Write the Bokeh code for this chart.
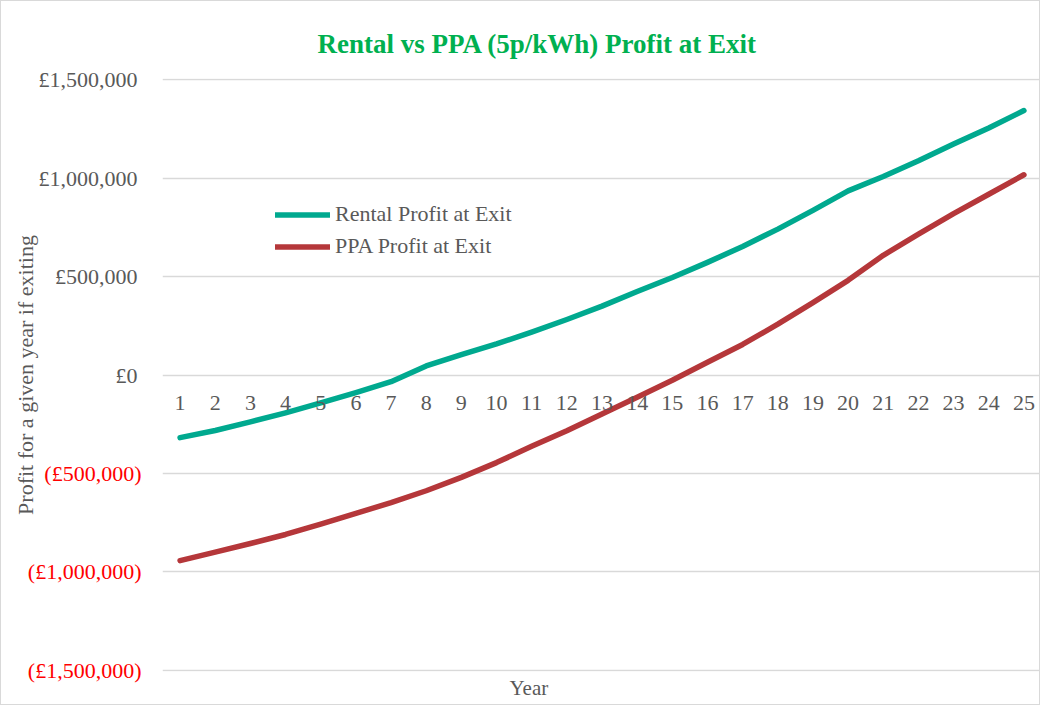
from bokeh.plotting import figure
from bokeh.models import (FactorRange, Range1d, FixedTicker, Legend, LegendItem,
                          LinearAxis, Title, ColumnDataSource)
from bokeh.embed import file_html
from bokeh.resources import INLINE

# ---------------- data ----------------
years = [str(i) for i in range(1, 26)]
rental_profit = [-318000, -282000, -238000, -192000, -142000, -90000, -34000,
                 46000, 104000, 158000, 218000, 282000, 350000, 424000, 495000,
                 572000, 653000, 741000, 836000, 935000, 1008000, 1088000,
                 1173000, 1255000, 1343000]
ppa_profit = [-943000, -900000, -856000, -810000, -757000, -703000, -648000,
              -588000, -520000, -445000, -362000, -283000, -198000, -113000,
              -27000, 65000, 155000, 258000, 368000, 481000, 608000, 716000,
              820000, 918000, 1017000]
series_names = ["Rental Profit at Exit", "PPA Profit at Exit"]
y_ticks = [-1500000, -1000000, -500000, 0, 500000, 1000000, 1500000]
y_tick_labels = ["(£1,500,000)", "(£1,000,000)", "(£500,000)", "£0",
                 "£500,000", "£1,000,000", "£1,500,000"]
title_text = "Rental vs PPA (5p/kWh) Profit at Exit"
y_title = "Profit for a given year if exiting"
x_title = "Year"

# ---------------- style ----------------
FONT = "Liberation Serif"
GREY = "#595959"
TEAL = "#00A98F"
RED = "#B5373A"
GRID = "#D9D9D9"

# small pad so the outer grid lines are not clipped by the frame
pad = 6000
p = figure(width=1040, height=705,
           x_range=FactorRange(factors=years, range_padding=0),
           y_range=Range1d(y_ticks[0] - pad, y_ticks[-1] + pad),
           output_backend="svg", toolbar_location=None,
           min_border_left=161, min_border_right=0,
           min_border_top=77, min_border_bottom=35)
p.styles = {"border": "1px solid #D9D9D9"}
p.outline_line_color = None
p.background_fill_color = "white"
p.border_fill_color = "white"

src = ColumnDataSource(dict(year=years, rental=rental_profit, ppa=ppa_profit))
r1 = p.line("year", "rental", source=src, line_color=TEAL, line_width=5.5,
            line_cap="round", line_join="round")
r2 = p.line("year", "ppa", source=src, line_color=RED, line_width=5.5,
            line_cap="round", line_join="round")

# title
p.title.text = title_text
p.title.align = "left"
p.title.offset = 155
p.title.standoff = 39
p.title.text_font = FONT
p.title.text_font_size = "27px"
p.title.text_font_style = "bold"
p.title.text_color = "#00B050"

# grid
p.xgrid.visible = False
p.ygrid.ticker = FixedTicker(ticks=y_ticks)
p.ygrid.grid_line_color = GRID
p.ygrid.grid_line_width = 1.5

# y axis A: non-negative labels in grey
axA = p.yaxis[0]
axA.ticker = FixedTicker(ticks=[t for t in y_ticks if t >= 0])
axA.major_label_overrides = {t: lab for t, lab in zip(y_ticks, y_tick_labels) if t >= 0}
axA.axis_line_color = None
axA.major_tick_line_color = None
axA.minor_tick_line_color = None
axA.major_label_standoff = 19
axA.major_label_text_font = FONT
axA.major_label_text_font_size = "22px"
axA.major_label_text_color = GREY

# y axis B: negative labels in red, pulled in to line up with axis A
axB = LinearAxis(ticker=FixedTicker(ticks=[t for t in y_ticks if t < 0]),
                 major_label_overrides={t: lab for t, lab in zip(y_ticks, y_tick_labels) if t < 0},
                 axis_line_color=None, major_tick_line_color=None,
                 minor_tick_line_color=None, major_label_standoff=-112,
                 major_label_text_font=FONT, major_label_text_font_size="22px",
                 major_label_text_color="#FF0000",
                 axis_label=y_title, axis_label_standoff=-13,
                 axis_label_text_font=FONT, axis_label_text_font_size="22px",
                 axis_label_text_font_style="normal",
                 axis_label_text_color=GREY)
p.add_layout(axB, "left")

# x axis crossing at zero
p.xaxis.fixed_location = 0
p.xaxis.axis_line_color = None
p.xaxis.major_tick_line_color = None
p.xaxis.minor_tick_line_color = None
p.xaxis.major_label_standoff = 15
p.xaxis.major_label_text_font = FONT
p.xaxis.major_label_text_font_size = "22px"
p.xaxis.major_label_text_color = GREY

year_title = Title(text=x_title, align="left", offset=347, standoff=4,
                   text_font=FONT, text_font_size="21px",
                   text_font_style="normal", text_color=GREY)
p.add_layout(year_title, "below")

legend = Legend(items=[LegendItem(label=series_names[0], renderers=[r1]),
                       LegendItem(label=series_names[1], renderers=[r2])],
                location=(113, 412), glyph_width=55, glyph_height=25,
                label_height=25, spacing=6, label_standoff=5, padding=0,
                margin=0, border_line_color=None, background_fill_alpha=0,
                label_text_font=FONT, label_text_font_size="22px",
                label_text_color=GREY)
p.add_layout(legend)

open("out.html", "w").write(file_html(p, INLINE))
